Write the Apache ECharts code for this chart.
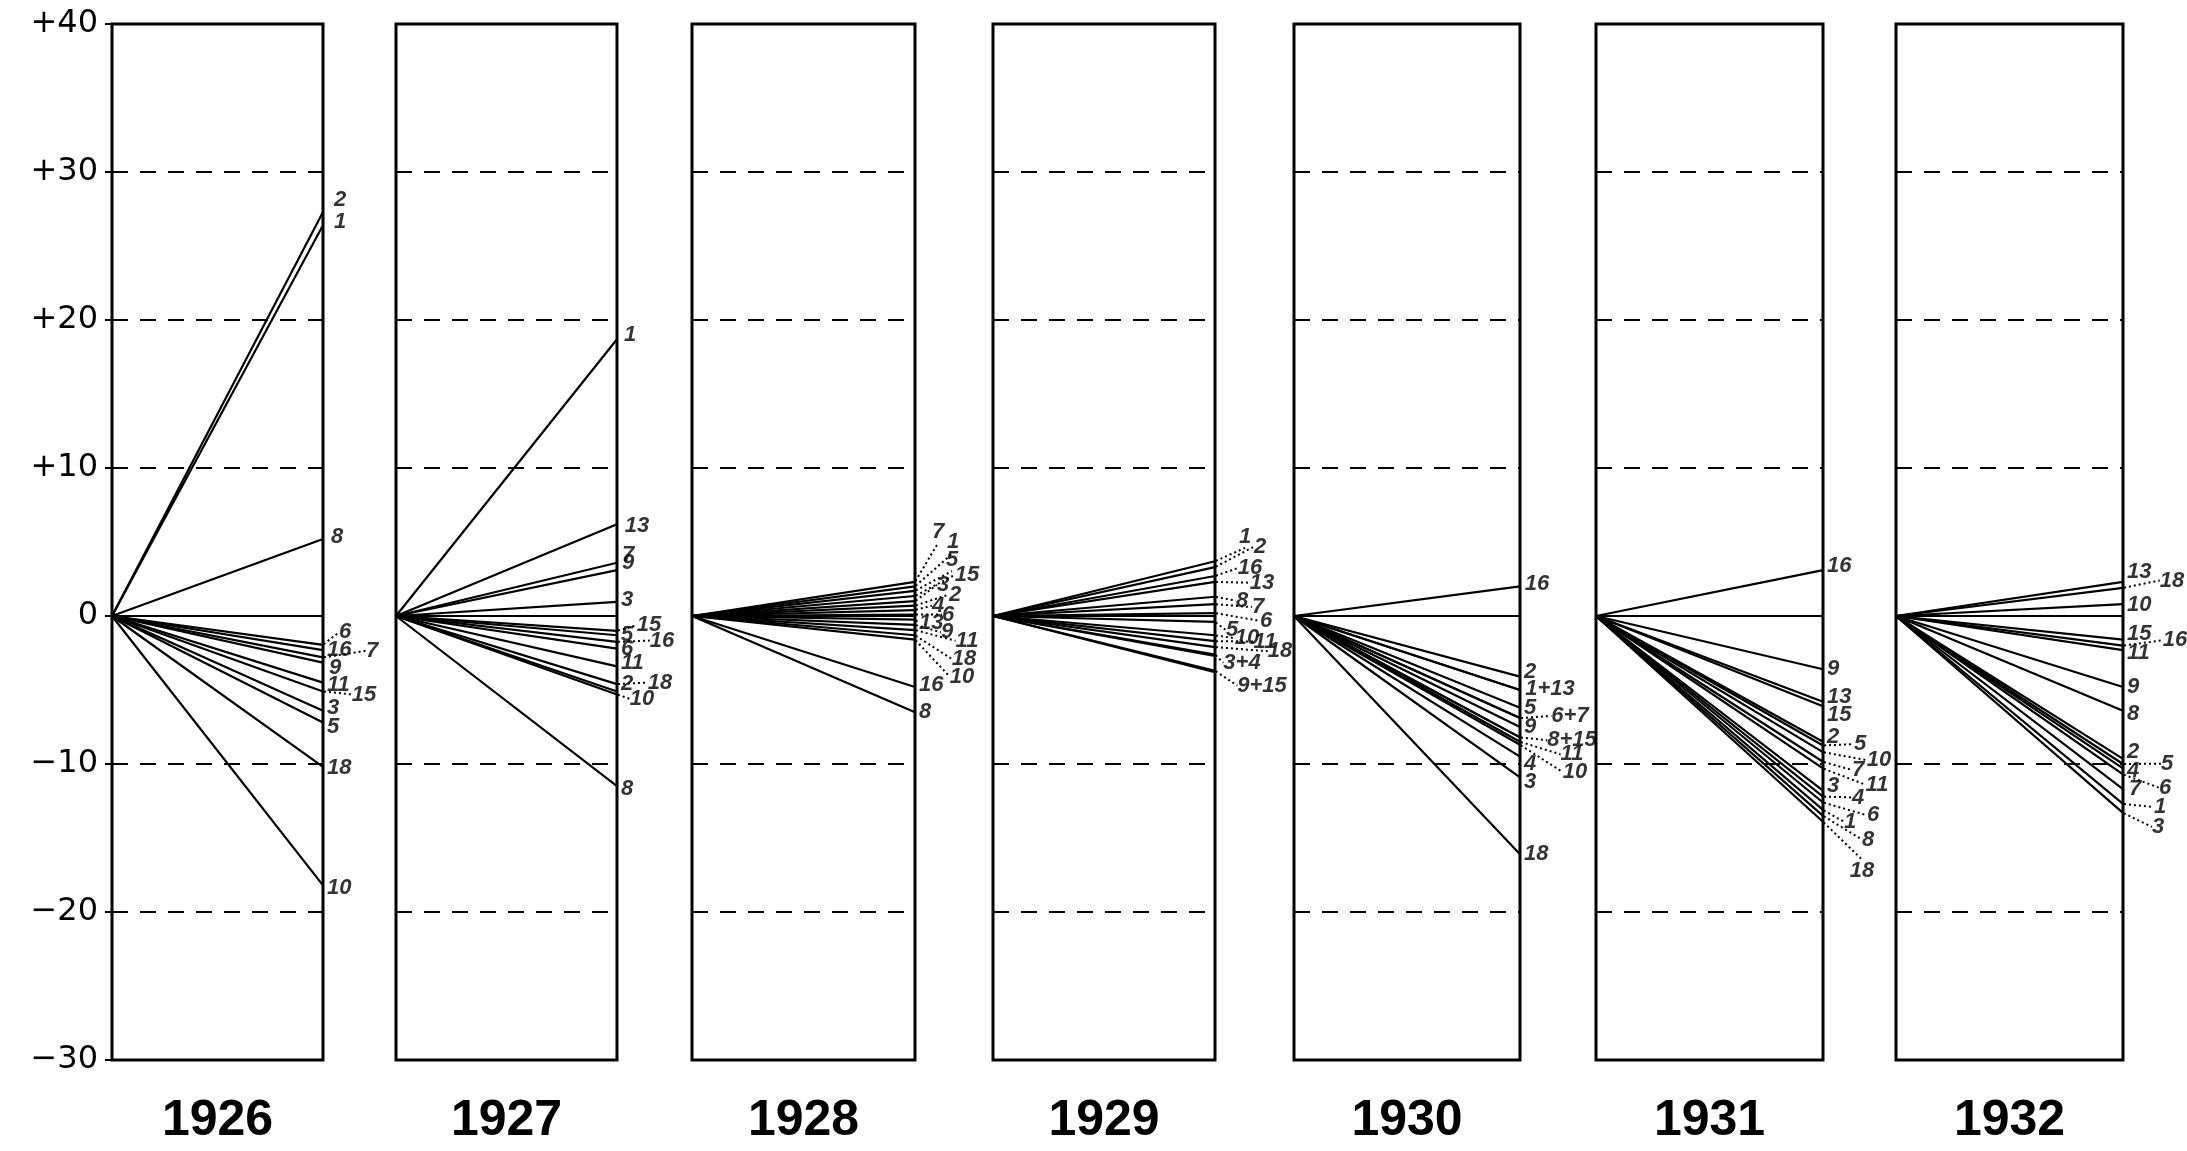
<!DOCTYPE html>
<html>
<head>
<meta charset="utf-8">
<script src="https://cdn.jsdelivr.net/npm/echarts@6/dist/echarts.min.js"></script>
<style>
html,body{margin:0;padding:0;background:#fff;}
#c{width:2187px;height:1151px;}
</style>
</head>
<body>
<div id="c"></div>
<script>
// ---------- DATA ----------
const years = ['1926','1927','1928','1929','1930','1931','1932'];
const yTicks = [-30,-20,-10,0,10,20,30,40];

const ids1926 = ['2','1','8','6','16','7','9','11','15','3','5','18','10'];
const val1926 = [27.3,26.4,5.2,-1.95,-2.3,-2.8,-3.15,-4.5,-5.1,-6.4,-7.2,-10.2,-18.2];
const txt1926 = ['2','1','8','6','16','7','9','11','15','3','5','18','10'];

const ids1927 = ['1','13','7','9','3','15','5','16','6','11','18','2','10','8'];
const val1927 = [18.7,6.2,3.6,3.1,0.95,-1.0,-1.3,-1.75,-2.2,-3.4,-4.6,-5.1,-5.3,-11.5];
const txt1927 = ['1','13','7','9','3','15','5','16','6','11','18','2','10','8'];

const ids1928 = ['7','1','5','15','3','2','4','6','13','9','11','18','10','16','8'];
const val1928 = [2.3,2.0,1.7,1.35,1.0,0.7,0.4,0.1,-0.25,-0.6,-0.95,-1.3,-1.6,-4.8,-6.5];
const txt1928 = ['7','1','5','15','3','2','4','6','13','9','11','18','10','16','8'];

const ids1929 = ['1','2','16','13','8','7','6','5','10','11','18','3','4','9','15'];
const val1929 = [3.7,3.3,2.7,2.3,1.3,0.8,0.2,-0.4,-1.3,-1.7,-2.1,-2.6,-2.7,-3.7,-3.8];
const txt1929 = ['1','2','16','13','8','7','6','5','10','11','18','3+4','','9+15',''];

const ids1930 = ['16','2','1','13','5','6','7','9','8','15','11','10','4','3','18'];
const val1930 = [2.0,-4.1,-5.0,-5.0,-6.2,-6.9,-6.9,-7.5,-8.2,-8.2,-8.5,-8.7,-9.5,-10.9,-16.1];
const txt1930 = ['16','2','1+13','','5','6+7','','9','8+15','','11','10','4','3','18'];

const ids1931 = ['16','9','13','15','2','5','10','7','11','3','4','6','1','8','18'];
const val1931 = [3.1,-3.6,-5.8,-6.1,-8.5,-8.75,-9.2,-9.85,-10.3,-11.8,-12.2,-12.6,-13.1,-13.5,-13.9];
const txt1931 = ['16','9','13','15','2','5','10','7','11','3','4','6','1','8','18'];

const ids1932 = ['13','18','10','15','16','11','9','8','2','5','4','6','7','1','3'];
const val1932 = [2.3,1.9,0.8,-1.6,-2.0,-2.3,-4.8,-6.4,-9.65,-10.0,-10.3,-10.7,-11.7,-12.7,-13.3];
const txt1932 = ['13','18','10','15','16','11','9','8','2','5','4','6','7','1','3'];

// ---------- LABEL LAYOUT (x offset px, label level in axis units, leader line) ----------
const lay1926 = [[17,28.1,0],[17,26.6,0],[14,5.35,0],[22,-1.1,1],[15,-2.27,0],[49,-2.35,1],[12,-3.5,0],[15,-4.65,0],[41,-5.3,1],[10,-6.2,0],[10,-7.5,0],[15,-10.25,0],[12,-18.4,0]];
const lay1927 = [[13,19.0,0],[20,6.07,0],[11,4.14,0],[11,3.57,0],[10,1.07,0],[32,-0.63,1],[10,-1.3,0],[45,-1.66,1],[8,-2.2,0],[13,-3.2,0],[43,-4.5,1],[10,-4.6,0],[25,-5.6,1],[8,-11.66,0]];
const lay1928 = [[23,5.67,1],[38,5.0,1],[37,3.78,1],[52,2.78,1],[28,2.1,1],[40,1.45,1],[23,0.7,1],[33,0.1,1],[15,-0.45,1],[32,-1.1,1],[52,-1.67,1],[49,-2.9,1],[47,-4.1,1],[12,-4.67,0],[10,-6.45,0]];
const lay1929 = [[30,5.34,1],[45,4.68,1],[35,3.24,1],[47,2.25,1],[27,1.04,1],[43,0.6,1],[51,-0.33,1],[17,-0.95,1],[32,-1.5,1],[50,-1.72,1],[65,-2.38,1],[27,-3.16,1],null,[47,-4.7,1],null];
const lay1930 = [[17,2.17,0],[10,-3.8,0],[30,-4.9,0],null,[8,-6.2,0],[50,-6.75,1],null,[10,-7.5,0],[52,-8.4,1],null,[52,-9.35,1],[55,-10.55,1],[10,-10.0,0],[8,-11.2,0],[13,-16.1,0]];
const lay1931 = [[14,3.4,0],[9,-3.6,0],[12,-5.47,0],[12,-6.68,0],[10,-8.2,0],[37,-8.65,1],[56,-9.74,1],[35,-10.4,1],[54,-11.4,1],[10,-11.5,0],[35,-12.26,1],[50,-13.46,1],[27,-13.9,1],[45,-15.1,1],[39,-17.2,1]];
const lay1932 = [[14,2.96,0],[49,2.4,1],[14,0.77,0],[12,-1.2,0],[52,-1.64,1],[12,-2.5,0],[10,-4.8,0],[10,-6.6,0],[10,-9.2,0],[44,-9.98,1],[9,-10.5,0],[42,-11.6,1],[12,-11.7,0],[37,-12.9,1],[35,-14.25,1]];

const panels = [
  {year:years[0], ids:ids1926, vals:val1926, txt:txt1926, lay:lay1926},
  {year:years[1], ids:ids1927, vals:val1927, txt:txt1927, lay:lay1927},
  {year:years[2], ids:ids1928, vals:val1928, txt:txt1928, lay:lay1928},
  {year:years[3], ids:ids1929, vals:val1929, txt:txt1929, lay:lay1929},
  {year:years[4], ids:ids1930, vals:val1930, txt:txt1930, lay:lay1930},
  {year:years[5], ids:ids1931, vals:val1931, txt:txt1931, lay:lay1931},
  {year:years[6], ids:ids1932, vals:val1932, txt:txt1932, lay:lay1932}
];

// ---------- LAYOUT ----------
const boxes = [[112,211],[396,221],[692,223],[993,222],[1294,226],[1596,227],[1896,227]];
const TOP = 24, HEIGHT = 1036;
const PPU = HEIGHT / (yTicks[yTicks.length-1] - yTicks[0]);

const grid = [], xAxis = [], yAxis = [], series = [];
panels.forEach((p, i) => {
  grid.push({left: boxes[i][0], width: boxes[i][1], top: TOP, height: HEIGHT,
    show: true, borderColor: '#000', borderWidth: 3, backgroundColor: 'transparent'});
  xAxis.push({gridIndex: i, type: 'value', min: 0, max: 1,
    axisLine: {show: false}, axisTick: {show: false}, axisLabel: {show: false}, splitLine: {show: false},
    name: p.year, nameLocation: 'middle', nameGap: 36,
    nameTextStyle: {fontFamily: 'Liberation Sans', fontWeight: 'bold', fontSize: 50, color: '#000'}});
  yAxis.push({gridIndex: i, type: 'value', min: yTicks[0], max: yTicks[yTicks.length-1], interval: 10,
    axisLine: {show: false},
    axisTick: {show: i === 0, inside: false, length: 7, lineStyle: {color: '#000', width: 2}},
    axisLabel: {show: i === 0, margin: 14, fontFamily: 'DejaVu Sans', fontSize: 32, color: '#000',
      formatter: v => v > 0 ? '+' + v : (v < 0 ? '\u2212' + (-v) : '0')},
    splitLine: {show: true, lineStyle: {color: '#000', width: 2, type: [16, 12]}}});

  // zero reference line + fan lines
  const segs = [{coords: [[0, 0], [1, 0]]}];
  p.vals.forEach(v => segs.push({coords: [[0, 0], [1, v]]}));
  series.push({type: 'lines', coordinateSystem: 'cartesian2d', xAxisIndex: i, yAxisIndex: i,
    polyline: false, silent: true, clip: false,
    lineStyle: {color: '#000', width: 2.2, opacity: 1}, data: segs});

  // end labels
  series.push({type: 'scatter', xAxisIndex: i, yAxisIndex: i, symbolSize: 2, clip: false, silent: true,
    itemStyle: {color: '#000'},
    data: p.vals.map((v, k) => ({
      name: p.ids[k], value: [1, v],
      label: {show: !!p.txt[k] && !!p.lay[k], formatter: p.txt[k]},
      labelLine: {show: !!(p.lay[k] && p.lay[k][2])}
    })),
    label: {position: 'inside', fontFamily: 'Liberation Sans', fontStyle: 'italic', fontWeight: 'bold',
      fontSize: 22, color: '#000'},
    labelLine: {lineStyle: {color: '#000', width: 2, type: [2, 3]}},
    labelLayout: prm => {
      const L = p.lay[prm.dataIndex];
      if (!L) return {};
      const v = p.vals[prm.dataIndex];
      const dx = Math.max(L[0], prm.labelRect.width / 2 + 4);
      return {dx: dx, dy: -(L[1] - v) * PPU, align: 'center', verticalAlign: 'middle'};
    }
  });
});

const chart = echarts.init(document.getElementById('c'), null, {renderer: 'canvas'});
chart.setOption({backgroundColor: '#fff', animation: false, grid, xAxis, yAxis, series});
</script>
</body>
</html>
